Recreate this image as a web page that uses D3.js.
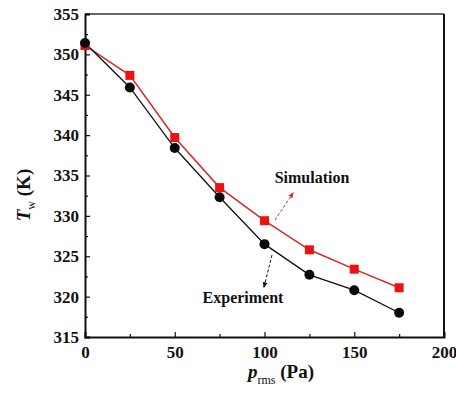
<!DOCTYPE html>
<html>
<head>
<meta charset="utf-8">
<script src="https://cdn.jsdelivr.net/npm/d3@7"></script>
<style>
  html, body { margin: 0; padding: 0; background: #fff; }
  svg { display: block; }
  text { font-family: "Liberation Serif", "Times New Roman", serif; font-weight: bold; fill: #111; }
</style>
</head>
<body>
<svg id="chart" width="456" height="397"></svg>
<script>
// Pressure amplitude (Pa) and wall temperature (K)
const pressure = [0, 25, 50, 75, 100, 125, 150, 175];
const experiment = [351.4, 345.9, 338.4, 332.3, 326.5, 322.7, 320.8, 318.0];
const simulation = [351.1, 347.4, 339.7, 333.5, 329.4, 325.8, 323.4, 321.1];
const xTicks = [0, 50, 100, 150, 200];
const yTicks = [315, 320, 325, 330, 335, 340, 345, 350, 355];

const svg = d3.select("#chart");
const m = { left: 85, top: 14, right: 444, bottom: 337 };

const x = d3.scaleLinear().domain([0, 200]).range([m.left, m.right]);
const y = d3.scaleLinear().domain([315, 355]).range([m.bottom, m.top]);

// frame: top/right plain lines
svg.append("line").attr("x1", m.left).attr("x2", m.right).attr("y1", m.top).attr("y2", m.top)
  .attr("stroke", "#333").attr("stroke-width", 1.5);
svg.append("line").attr("x1", m.right).attr("x2", m.right).attr("y1", m.top).attr("y2", m.bottom)
  .attr("stroke", "#111").attr("stroke-width", 2);

const tickFont = g => g.selectAll("text")
  .attr("font-size", 17).attr("font-family", "Liberation Serif")
  .attr("font-weight", "bold").attr("fill", "#111");

// bottom axis with inward ticks
const xAxis = svg.append("g").attr("transform", `translate(0,${m.bottom})`)
  .call(d3.axisBottom(x).tickValues(xTicks).tickSize(-5).tickPadding(9).tickFormat(d3.format("d")));
xAxis.select(".domain").attr("stroke", "#111").attr("stroke-width", 2);
xAxis.selectAll(".tick line").attr("stroke", "#111").attr("stroke-width", 1.2);
xAxis.call(tickFont);
svg.append("g").attr("transform", `translate(0,${m.bottom})`)
  .call(d3.axisBottom(x).tickValues([25, 75, 125, 175]).tickSize(-3).tickFormat(""))
  .call(g => g.select(".domain").remove())
  .selectAll(".tick line").attr("stroke", "#111").attr("stroke-width", 1.2);

// left axis with inward ticks
const yAxis = svg.append("g").attr("transform", `translate(${m.left},0)`)
  .call(d3.axisLeft(y).tickValues(yTicks).tickSize(-5).tickPadding(6).tickFormat(d3.format("d")));
yAxis.select(".domain").attr("stroke", "#111").attr("stroke-width", 2);
yAxis.selectAll(".tick line").attr("stroke", "#111").attr("stroke-width", 1.2);
yAxis.call(tickFont);
svg.append("g").attr("transform", `translate(${m.left},0)`)
  .call(d3.axisLeft(y).tickValues(d3.range(317.5, 355, 5)).tickSize(-3).tickFormat(""))
  .call(g => g.select(".domain").remove())
  .selectAll(".tick line").attr("stroke", "#111").attr("stroke-width", 1.2);

// series lines
const line = d3.line().x((d, i) => x(pressure[i])).y(d => y(d));
svg.append("path").datum(simulation).attr("d", line)
  .attr("fill", "none").attr("stroke", "#d42a2a").attr("stroke-width", 1.5);
svg.append("path").datum(experiment).attr("d", line)
  .attr("fill", "none").attr("stroke", "#111").attr("stroke-width", 1.3);

// markers
svg.selectAll(".sq").data(simulation).enter().append("rect")
  .attr("x", (d, i) => x(pressure[i]) - 4.5).attr("y", d => y(d) - 4.5)
  .attr("width", 9).attr("height", 9).attr("fill", "#ee1111");
svg.selectAll(".dot").data(experiment).enter().append("circle")
  .attr("cx", (d, i) => x(pressure[i])).attr("cy", d => y(d)).attr("r", 5).attr("fill", "#0a0a0a");

// annotation arrows
const defs = svg.append("defs");
[["arrRed", "#d42a2a"], ["arrBlk", "#111"]].forEach(([id, c]) => {
  defs.append("marker").attr("id", id).attr("viewBox", "0 0 10 10").attr("refX", 8).attr("refY", 5)
    .attr("markerWidth", 6).attr("markerHeight", 6).attr("orient", "auto")
    .append("path").attr("d", "M0,1 L10,5 L0,9 Z").attr("fill", c);
});
svg.append("line").attr("x1", 275).attr("y1", 220).attr("x2", 293).attr("y2", 193)
  .attr("stroke", "#d42a2a").attr("stroke-width", 1).attr("stroke-dasharray", "3,2")
  .attr("marker-end", "url(#arrRed)");
svg.append("line").attr("x1", 272).attr("y1", 255).attr("x2", 264).attr("y2", 287)
  .attr("stroke", "#111").attr("stroke-width", 1).attr("stroke-dasharray", "3,2")
  .attr("marker-end", "url(#arrBlk)");

svg.append("text").attr("x", 312).attr("y", 183).attr("text-anchor", "middle")
  .attr("font-size", 16).text("Simulation");
svg.append("text").attr("x", 243).attr("y", 303).attr("text-anchor", "middle")
  .attr("font-size", 16).text("Experiment");

// axis titles
const xt = svg.append("text").attr("x", 281).attr("y", 378).attr("text-anchor", "middle").attr("font-size", 19);
xt.append("tspan").attr("font-style", "italic").text("p");
xt.append("tspan").attr("font-size", 12).attr("font-weight", "normal").attr("dy", 6).text("rms");
xt.append("tspan").attr("dy", -6).text(" (Pa)");

const yt = svg.append("text").attr("transform", "translate(30,195) rotate(-90)")
  .attr("text-anchor", "middle").attr("font-size", 19);
yt.append("tspan").attr("font-style", "italic").text("T");
yt.append("tspan").attr("font-size", 12).attr("font-weight", "normal").attr("dy", 5).text("w");
yt.append("tspan").attr("dy", -5).text(" (K)");
</script>
</body>
</html>
